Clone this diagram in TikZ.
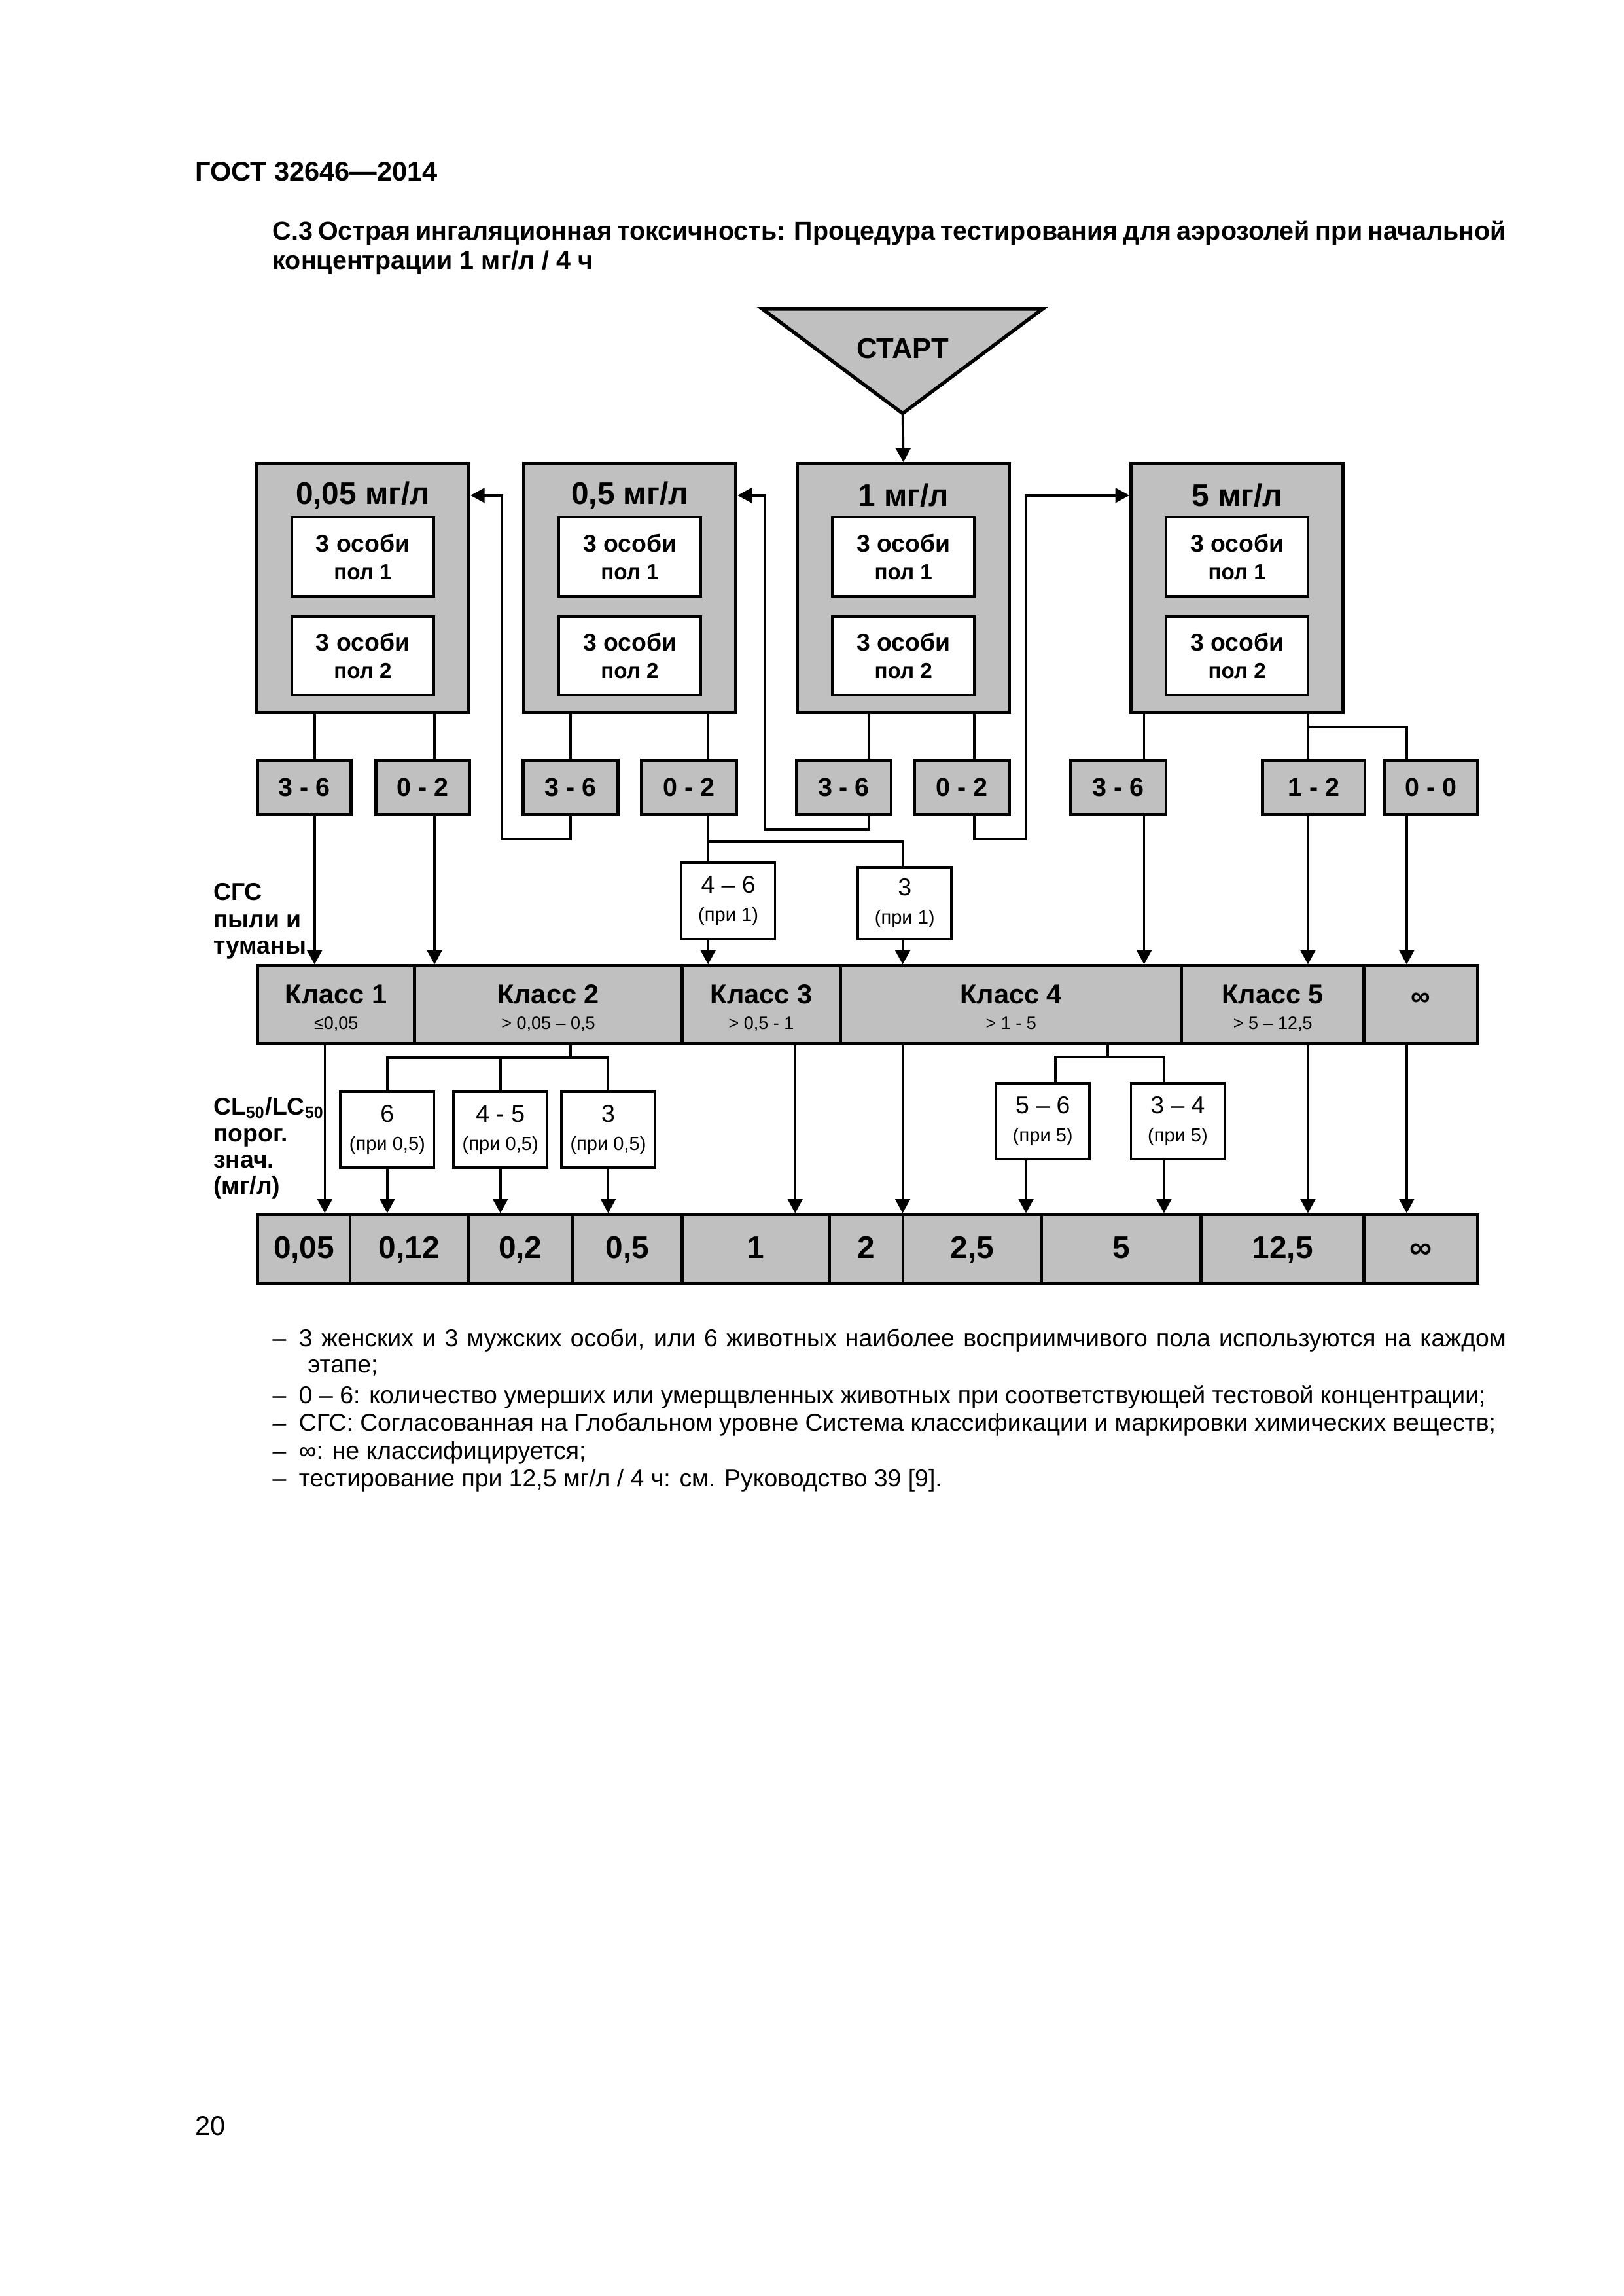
\documentclass[tikz,border=0pt]{standalone}
\usepackage{fontspec}
\setmainfont{Liberation Sans}
\usetikzlibrary{arrows.meta,positioning}
\newlength{\gu}
\setlength{\gu}{0.18926mm}
\definecolor{scan}{RGB}{192,192,192}
\tikzset{
    dose/.style={rectangle,draw,line width=1.2pt,fill=scan,minimum width=145\gu,minimum height=170\gu,inner sep=0pt},
    head/.style={inner sep=0pt,font=\bfseries\fontsize{11.5}{12}\selectfont},
    group/.style={rectangle,draw,line width=0.9pt,fill=white,minimum width=97\gu,minimum height=54\gu,inner sep=0pt,align=center,font=\bfseries\fontsize{9}{10}\selectfont},
    tally/.style={rectangle,draw,line width=1.1pt,fill=scan,minimum width=64\gu,minimum height=37\gu,inner sep=0pt,font=\bfseries\fontsize{9.5}{10}\selectfont},
    retest/.style={rectangle,draw,line width=0.9pt,fill=white,minimum width=64\gu,minimum height=52\gu,inner sep=0pt,align=center,font=\fontsize{9}{10.3}\selectfont},
    band/.style={rectangle,draw,line width=1.1pt,fill=scan,minimum height=53\gu,inner sep=0pt,align=center,font=\fontsize{10}{9.3}\selectfont},
    limit/.style={rectangle,draw,line width=1.1pt,fill=scan,minimum height=47\gu,inner sep=0pt,text height=8.3pt,text depth=1.5pt,font=\bfseries\fontsize{11.5}{12}\selectfont},
    side/.style={anchor=base west,inner sep=0pt,font=\bfseries\fontsize{9}{10}\selectfont},
    note/.style={anchor=base west,inner sep=0pt,font=\fontsize{9}{10}\selectfont},
    wire/.style={line width=0.9pt},
    pre/.style={line width=0.9pt,-{Triangle[length=5.2pt,width=5.4pt]}}
}

\begin{document}
\begin{tikzpicture}[x=\gu,y=-\gu]
\useasboundingbox (0,0) rectangle (1109.6,1568.9);

% page text
\node[anchor=base west,inner sep=0pt,font=\bfseries\fontsize{10}{12}\selectfont] (gost) at (133,123.5) {ГОСТ 32646—2014};
\node[anchor=base west,inner sep=0pt,font=\bfseries\fontsize{9.5}{11}\selectfont] (title 1) at (186,164)
    {\makebox[843\gu][s]{С.3 Острая ингаляционная токсичность: Процедура тестирования для аэрозолей при начальной}};
\node[anchor=base west,inner sep=0pt,font=\bfseries\fontsize{9.5}{11}\selectfont] (title 2) at (186,184) {концентрации 1 мг/л / 4 ч};

% start
\coordinate (tip) at (617,282.5);
\draw[fill=scan,line width=1.3pt] (521,211) -- (712.7,211) -- (tip) -- cycle;
\node[font=\bfseries\fontsize{10.5}{12}\selectfont] (start) at (617,238) {СТАРТ};

% test concentrations
\foreach \cx/\mg [count=\i] in {248/{0,05}, 430.5/{0,5}, 617.5/1, 845.6/5} {
    \node[dose] (dose \i) at (\cx,402) {};
    \node[head] (head \i) at (\cx,338.5) {\mg\ мг/л};
    \node[group] (sex \i a) at (\cx,380.5) {3 особи\\{\fontsize{8}{10}\selectfont пол 1}};
    \node[group,below=12\gu of sex \i a] (sex \i b) {3 особи\\{\fontsize{8}{10}\selectfont пол 2}};
}

% dead animals
\foreach \cx/\dead/\w [count=\i] in {208/3 - 6/64, 289/0 - 2/64, 390/3 - 6/65, 471/0 - 2/65, 576.7/3 - 6/65,
        657.5/0 - 2/65, 764.5/3 - 6/65, 898/1 - 2/70, 978/0 - 0/64}
    \node[tally,minimum width=\w\gu] (tally \i) at (\cx,538) {\dead};

\node[retest] (again 1) at (497.8,615.5) {4 – 6\\{\fontsize{7}{10.3}\selectfont(при 1)}};
\node[retest,minimum height=49\gu] (again 2) at (618.4,617) {3\\{\fontsize{7}{10.3}\selectfont(при 1)}};

% GHS classes
\foreach \l/\r/\cls/\range [count=\i] in {176.2/283.3/Класс 1/{≤0,05}, 283.3/466.3/Класс 2/{> 0,05 – 0,5},
        466.3/574.5/Класс 3/{> 0,5 - 1}, 574.5/807.7/Класс 4/{> 1 - 5}, 807.7/932.3/Класс 5/{> 5 – 12,5}}
    \node[band,minimum width={(\r-\l)*\gu}] (class \i) at ({(\l+\r)/2},686.5)
        {\rule{0pt}{10.4pt}\textbf{\cls}\\{\fontsize{6.5}{9.3}\selectfont\rule[-1.8pt]{0pt}{0pt}\range}};
\node[band,minimum width={(1010-932.3)*\gu}] (class 6) at ({(932.3+1010)/2},686.5) {\rule[-4pt]{0pt}{0pt}\textbf{∞}};

\node[retest] (cut 1) at (264.7,772) {6\\{\fontsize{7}{10.3}\selectfont(при 0,5)}};
\node[retest] (cut 2) at (342,772) {4 - 5\\{\fontsize{7}{10.3}\selectfont(при 0,5)}};
\node[retest] (cut 3) at (415.7,772) {3\\{\fontsize{7}{10.3}\selectfont(при 0,5)}};
\node[retest] (cut 4) at (712.8,766) {5 – 6\\{\fontsize{7}{10.3}\selectfont(при 5)}};
\node[retest] (cut 5) at (805,766) {3 – 4\\{\fontsize{7}{10.3}\selectfont(при 5)}};

% LC50 cut-off values
\foreach \l/\r/\v [count=\i] in {176.2/239.3/{0,05}, 239.3/320/{0,12}, 320/391.3/{0,2}, 391.3/466.3/{0,5},
        466.3/566.9/1, 566.9/617.1/2, 617.1/711.9/{2,5}, 711.9/821/5, 821/932.3/{12,5}, 932.3/1010/∞}
    \node[limit,minimum width={(\r-\l)*\gu}] (val \i) at ({(\l+\r)/2},853.5) {\v};

% row captions
\node[side] (ghs 1) at (145.5,615) {СГС};
\node[side] (ghs 2) at (145.5,634) {пыли и};
\node[side] (ghs 3) at (145.5,652) {туманы};
\node[side] (lc 1) at (145.5,762) {CL\textsubscript{50}/LC\textsubscript{50}};
\node[side] (lc 2) at (145.5,780) {порог.};
\node[side] (lc 3) at (145.5,798) {знач.};
\node[side] (lc 4) at (145.5,816) {(мг/л)};

% lanes
\foreach \x [count=\i] in {215,297,390,484,594,666,782,894,961.5}
    \coordinate (lane \i) at (\x,0);
\foreach \x [count=\i] in {222,390,543.5,617,757,894,961.5,721.4,701.3,795.6}
    \coordinate (drop \i) at (\x,0);
\coordinate (back 1) at (343,573.5);
\coordinate (back 2) at (523,566.5);
\coordinate (up 4) at (701,573.5);
\coordinate (fork 1) at (484,575);
\coordinate (fork 2) at (390,722.7);
\coordinate (fork 4) at (757,722.3);
\coordinate (fork 5) at (894,497);

% connectors
\draw[pre] (tip) -- (dose 3.north);
\draw[wire] (dose 1.south -| lane 1) -- (tally 1.north -| lane 1);
\draw[wire] (dose 1.south -| lane 2) -- (tally 2.north -| lane 2);
\draw[wire] (dose 2.south -| lane 3) -- (tally 3.north -| lane 3);
\draw[wire] (dose 2.south -| lane 4) -- (tally 4.north -| lane 4);
\draw[wire] (dose 3.south -| lane 5) -- (tally 5.north -| lane 5);
\draw[wire] (dose 3.south -| lane 6) -- (tally 6.north -| lane 6);
\draw[wire] (dose 4.south -| lane 7) -- (tally 7.north -| lane 7);
\draw[wire] (dose 4.south -| lane 8) -- (tally 8.north -| lane 8);
\draw[wire] (fork 5) -| (tally 9.north -| lane 9);

\draw[pre] (tally 3.south -| lane 3) |- (back 1) |- (dose 1.east |- head 1);
\draw[pre] (tally 5.south -| lane 5) |- (back 2) |- (dose 2.east |- head 2);
\draw[pre] (tally 6.south -| lane 6) |- (up 4) |- (dose 4.west |- head 4);

\draw[wire] (tally 4.south -| lane 4) -- (again 1.north -| lane 4);
\draw[wire] (fork 1) -| (again 2.north -| drop 4);

\draw[pre] (tally 1.south -| lane 1) -- (class 1.north -| lane 1);
\draw[pre] (tally 2.south -| lane 2) -- (class 2.north -| lane 2);
\draw[pre] (again 1.south -| lane 4) -- (class 3.north -| lane 4);
\draw[pre] (again 2.south -| drop 4) -- (class 4.north -| drop 4);
\draw[pre] (tally 7.south -| lane 7) -- (class 4.north -| lane 7);
\draw[pre] (tally 8.south -| lane 8) -- (class 5.north -| lane 8);
\draw[pre] (tally 9.south -| lane 9) -- (class 6.north -| lane 9);

\draw[pre] (class 1.south -| drop 1) -- (val 1.north -| drop 1);
\draw[wire] (class 2.south -| drop 2) -- (fork 2);
\draw[wire] (cut 1.north) -- (cut 1.north |- fork 2) -- (cut 3.north |- fork 2) -- (cut 3.north);
\draw[wire] (cut 2.north) -- (cut 2.north |- fork 2);
\draw[pre] (cut 1.south) -- (cut 1.south |- val 2.north);
\draw[pre] (cut 2.south) -- (cut 2.south |- val 3.north);
\draw[pre] (cut 3.south) -- (cut 3.south |- val 4.north);
\draw[pre] (class 3.south -| drop 3) -- (val 5.north -| drop 3);
\draw[pre] (class 4.south -| drop 4) -- (val 6.north -| drop 4);
\draw[wire] (class 4.south -| drop 5) -- (fork 4);
\draw[wire] (cut 4.north -| drop 8) -- (fork 4 -| drop 8) -- (fork 4 -| drop 10) -- (cut 5.north -| drop 10);
\draw[pre] (cut 4.south -| drop 9) -- (val 7.north -| drop 9);
\draw[pre] (cut 5.south -| drop 10) -- (val 8.north -| drop 10);
\draw[pre] (class 5.south -| drop 6) -- (val 9.north -| drop 6);
\draw[pre] (class 6.south -| drop 7) -- (val 10.north -| drop 7);

% notes
\node[note] (dash 1) at (186,920) {–};
\node[note] (note 1) at (204,920) {\makebox[825\gu][s]{3 женских и 3 мужских особи, или 6 животных наиболее восприимчивого пола используются на каждом}};
\node[note] (note 1b) at (210,938) {этапе;};
\node[note] (dash 2) at (186,959) {–};
\node[note] (note 2) at (204,959) {0 – 6: количество умерших или умерщвленных животных при соответствующей тестовой концентрации;};
\node[note] (dash 3) at (186,978) {–};
\node[note] (note 3) at (204,978) {СГС: Согласованная на Глобальном уровне Система классификации и маркировки химических веществ;};
\node[note] (dash 4) at (186,997) {–};
\node[note] (note 4) at (204,997) {∞: не классифицируется;};
\node[note] (dash 5) at (186,1016) {–};
\node[note] (note 5) at (204,1016) {тестирование при 12,5 мг/л / 4 ч: см. Руководство 39 [9].};

\node[anchor=base west,inner sep=0pt,font=\fontsize{10}{12}\selectfont] (page) at (133,1459) {20};
\end{tikzpicture}
\end{document}
